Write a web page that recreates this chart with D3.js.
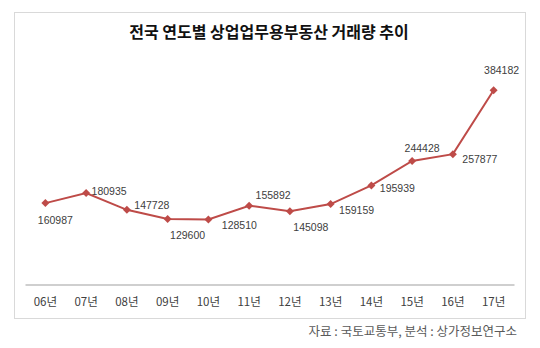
<!DOCTYPE html>
<html><head><meta charset="utf-8">
<script src="https://cdn.jsdelivr.net/npm/d3@7"></script>
<style>
html,body{margin:0;padding:0;background:#fff;}
svg{display:block;}
</style></head>
<body>
<svg id="c" width="540" height="348"></svg>
<script>
const title = "전국 연도별 상업업무용부동산 거래량 추이";
const source = "자료 : 국토교통부, 분석 : 상가정보연구소";
const categories = ["06년","07년","08년","09년","10년","11년","12년","13년","14년","15년","16년","17년"];
const values = [160987,180935,147728,129600,128510,155892,145098,159159,195939,244428,257877,384182];
const yMax = 450000;

// label offsets (layout) relative to each point
const labelOffsets = [[10,17],[23,-2],[25,-4],[20,16],[31,6],[24,-10],[21,16],[26,6],[26,3],[10,-13],[27,5],[8,-20]];

const svg = d3.select("#c");
const frame = {x:14.5, y:12.5, w:511, h:306};
svg.append("rect").attr("x",frame.x).attr("y",frame.y).attr("width",frame.w).attr("height",frame.h)
  .attr("fill","#fff").attr("stroke","#d9d9d9").attr("stroke-width",1);

const x = d3.scaleBand().domain(categories).range([25,514]);
const y = d3.scaleLinear().domain([0,yMax]).range([284.5,57]);

svg.append("text").attr("x",269).attr("y",37.5).attr("text-anchor","middle")
  .attr("font-family","'Noto Sans CJK KR'").attr("font-weight","bold").attr("font-size",16)
  .attr("fill","#111").text(title);

const xAxis = svg.append("g").attr("transform","translate(0,284.5)")
  .call(d3.axisBottom(x).tickSize(0).tickPadding(13));
xAxis.select(".domain").attr("stroke","#bfbfbf").attr("stroke-width",1.3);
xAxis.selectAll("text").attr("font-family","'Noto Sans CJK KR'").attr("font-size",11.5).attr("fill","#404040");

const cx = (d,i)=>x(categories[i])+x.bandwidth()/2;
const line = d3.line().x(cx).y(d=>y(d));
svg.append("path").datum(values).attr("d",line).attr("fill","none")
  .attr("stroke","#be4b48").attr("stroke-width",2);

svg.selectAll(".m").data(values).enter().append("path")
  .attr("d",d3.symbol(d3.symbolSquare,32))
  .attr("transform",(d,i)=>`translate(${cx(d,i)},${y(d)}) rotate(45)`)
  .attr("fill","#be4b48");

svg.selectAll(".lbl").data(values).enter().append("text")
  .attr("x",(d,i)=>cx(d,i)+labelOffsets[i][0])
  .attr("y",(d,i)=>y(d)+labelOffsets[i][1])
  .attr("dy","0.35em").attr("text-anchor","middle")
  .attr("font-family","'Liberation Sans'").attr("font-size",10.5).attr("fill","#404040")
  .text(d=>d);

svg.append("text").attr("x",517).attr("y",336).attr("text-anchor","end")
  .attr("font-family","'Noto Sans CJK KR'").attr("font-size",12.5).attr("fill","#595959").text(source);
</script>
</body></html>
